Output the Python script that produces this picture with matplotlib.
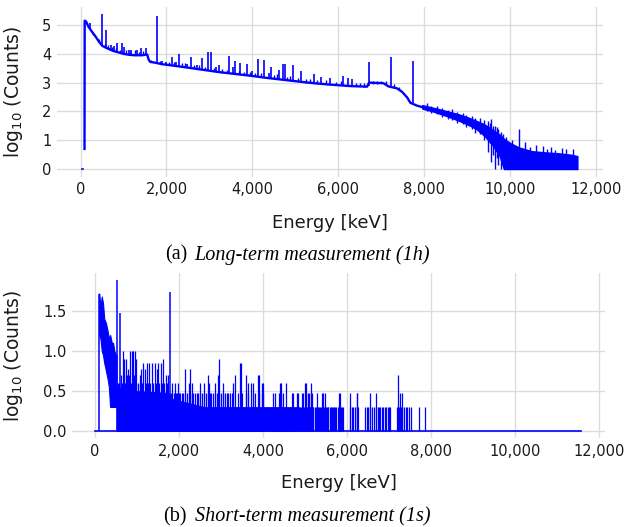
import numpy as np
import matplotlib
matplotlib.use("Agg")
import matplotlib.pyplot as plt
import matplotlib.ticker as mticker

BLUE = "#0000ff"
GRID = "#dcdcdc"

# ------------------------------------------------------------
# (a) long-term spectrum: continuum, photopeaks, high-energy noise band
# ------------------------------------------------------------
long_start_e = [30, 60]
long_start_y = [0.0, 0.0]

long_e = [93, 97, 130, 186, 260, 350, 430, 505, 580, 655, 760, 885, 1000, 1116,
          1250, 1434, 1550, 1585, 1620, 1744, 1900, 2209, 2500, 2829, 3200, 3600,
          3953, 4300, 4651, 5116, 5500, 5814, 6279, 6667, 6714, 7047, 7163, 7364,
          7481, 7597, 7674, 7829, 7950]
long_y = [0.7, 5.15, 5.12, 4.94, 4.78, 4.6, 4.42, 4.28, 4.22, 4.17, 4.1, 4.05, 4.0, 3.97,
          3.95, 3.95, 3.98, 3.8, 3.72, 3.69, 3.64, 3.58, 3.52, 3.45, 3.37, 3.3,
          3.24, 3.17, 3.11, 3.03, 2.97, 2.93, 2.88, 2.86, 3.0, 2.98, 2.87, 2.8,
          2.68, 2.49, 2.3, 2.2, 2.15]

band_e = [7950, 8200, 8500, 8800, 9000, 9200, 9400, 9600, 9750, 9850, 10000,
          10200, 10500, 10800, 11100, 11400, 11560]
band_lo = [2.1, 2.0, 1.85, 1.68, 1.55, 1.4, 1.15, 0.8, 0.45, 0.0, 0.0,
           0.0, 0.0, 0.0, 0.0, 0.0, 0.0]
band_hi = [2.22, 2.13, 2.02, 1.9, 1.8, 1.68, 1.55, 1.35, 1.2, 1.05, 0.9,
           0.75, 0.62, 0.58, 0.55, 0.5, 0.45]

# photopeaks sitting on the continuum
peak_e = [210, 511, 598, 698, 780, 853, 970, 1010, 1120, 1186, 1318, 1410, 1512,
          1779, 1900, 1980, 2132, 2223, 2287, 2480, 2581, 2700, 2829, 2960, 3039,
          3150, 3233, 3465, 3540, 3605, 3721, 3876, 4000, 4132, 4264, 4380, 4434,
          4612, 4713, 4752, 4946, 5140, 5426, 5605, 5814, 6109, 6217, 6318, 6714,
          7225, 7737]
peak_lo = [4.9, 4.28, 4.2, 4.15, 4.1, 4.07, 4.0, 4.0, 3.97, 3.96, 3.95, 3.95, 3.96,
           3.68, 3.64, 3.62, 3.59, 3.57, 3.56, 3.52, 3.5, 3.48, 3.45, 3.42, 3.4,
           3.38, 3.36, 3.32, 3.31, 3.3, 3.28, 3.25, 3.23, 3.2, 3.18, 3.16, 3.15,
           3.12, 3.1, 3.09, 3.06, 3.03, 2.98, 2.95, 2.93, 2.9, 2.89, 2.88, 2.9,
           2.86, 2.25]
peak_hi = [5.06, 5.37, 4.83, 4.3, 4.28, 4.36, 4.36, 4.25, 4.12, 4.15, 4.15, 4.19, 4.2,
           5.32, 3.75, 3.72, 3.88, 3.7, 3.98, 3.65, 3.88, 3.62, 3.84, 4.07, 4.05,
           3.55, 3.61, 3.92, 3.55, 3.76, 3.69, 3.63, 3.4, 3.81, 3.78, 3.35, 3.55,
           3.44, 3.63, 3.63, 3.61, 3.4, 3.29, 3.2, 3.15, 3.23, 3.15, 3.12, 3.73,
           3.9, 3.76]

# small fluctuations on the continuum
hair_e = [300, 420, 560, 640, 730, 820, 920, 1060, 1160, 1260, 1360, 1460, 1650,
          1840, 2050, 2170, 2350, 2420, 2640, 2760, 2900, 3100, 3300, 3400, 3680,
          3800, 3950, 4060, 4200, 4500, 4560, 4800, 4880, 5050, 5250, 5350, 5500,
          5700, 5950, 6050, 6400, 6500, 6600, 6800, 6900, 7000, 7100, 7300, 7420]
hair_lo = [4.66, 4.43, 4.24, 4.19, 4.12, 4.08, 4.02, 3.98, 3.96, 3.95, 3.95, 3.95, 3.7,
           3.64, 3.61, 3.6, 3.56, 3.55, 3.5, 3.47, 3.43, 3.39, 3.35, 3.33, 3.29,
           3.26, 3.24, 3.22, 3.19, 3.13, 3.12, 3.08, 3.07, 3.04, 3.0, 2.99, 2.97,
           2.95, 2.92, 2.91, 2.87, 2.87, 2.86, 2.96, 2.96, 2.97, 2.95, 2.84, 2.76]
hair_hi = [4.74, 4.52, 4.34, 4.3, 4.22, 4.2, 4.15, 4.12, 4.08, 4.12, 4.08, 4.1, 3.8,
           3.74, 3.72, 3.7, 3.68, 3.68, 3.6, 3.6, 3.55, 3.5, 3.48, 3.45, 3.42,
           3.38, 3.36, 3.32, 3.32, 3.25, 3.3, 3.2, 3.22, 3.15, 3.12, 3.12, 3.1,
           3.08, 3.02, 3.05, 2.98, 2.97, 2.98, 3.06, 3.05, 3.05, 3.04, 2.95, 2.85]

# noise spikes in the high-energy tail
tail_e = [8050, 8150, 8300, 8420, 8560, 8650, 8760, 8900, 8980, 9100, 9180, 9300,
          9380, 9480, 9520, 9560, 9600, 9640, 9680, 9720, 9780, 9820, 9900, 10050,
          10209, 10350, 10450, 10600, 10750, 10850, 10950, 11050, 11200, 11300, 11450]
tail_lo = [2.0, 1.95, 1.9, 1.8, 1.75, 1.7, 1.6, 1.55, 1.45, 1.4, 1.25, 1.2,
           1.0, 0.6, 0.9, 0.25, 0.5, 0.0, 0.4, 0.15, 0.0, 0.3, 0.0, 0.0,
           0.0, 0.0, 0.0, 0.0, 0.0, 0.0, 0.0, 0.0, 0.0, 0.0, 0.0]
tail_hi = [2.3, 2.2, 2.2, 2.12, 2.05, 2.08, 1.98, 1.95, 1.88, 1.85, 1.78, 1.78,
           1.7, 1.68, 1.6, 1.72, 1.5, 1.5, 1.45, 1.4, 1.3, 1.2, 1.1, 1.0,
           1.38, 0.95, 0.75, 0.82, 0.8, 0.7, 0.78, 0.65, 0.72, 0.68, 0.7]

# ------------------------------------------------------------
# (b) short-term spectrum: counts per channel (log10 shown)
# ------------------------------------------------------------
short_base_e = [0, 95, 11580]
short_base_y = [0.0, 0.0, 0.0]

short_env_e = [100, 130, 160, 190, 220, 260, 300, 330, 360, 400, 430, 460, 500, 515]
short_env_hi = [1.72, 1.55, 1.68, 1.6, 1.4, 1.35, 1.25, 1.15, 1.2, 1.1, 1.1, 1.0, 0.95, 0.95]
short_env_lo = [1.2, 1.15, 1.0, 0.95, 0.85, 0.75, 0.65, 0.55, 0.3, 0.3, 0.3, 0.3, 0.3, 0.3]

short_fill_e = [515, 1000, 1750, 1850, 2600, 4800]
short_fill_hi = [0.55, 0.5, 0.477, 0.4, 0.301, 0.301]

short_big_e = [97, 517, 595, 1786]
short_big_n = [52, 76, 30, 55]

short_n10_e = [660, 833, 873, 897, 952]
short_n8_e = [700, 740, 988, 1611, 2952]
short_n7_e = [1150, 1230, 1290, 1350, 1429, 1508, 1560, 3452, 3468]
short_n6_e = [780, 1100, 1190, 1470, 2143, 2262]
short_n5_e = [620, 690, 760, 810, 920, 1060, 1690, 1746, 2699, 2937, 3333, 3595,
              3881, 3913, 7206]
short_n4_e = [540, 560, 640, 675, 720, 790, 850, 910, 970, 1020, 1080, 1130, 1210,
              1260, 1320, 1380, 1450, 1530, 1590, 1650, 1720, 1826, 1900, 1984, 2230,
              2300, 2500, 2600, 2722, 2850, 3040, 3294, 3651, 3706, 3770, 3968, 4000,
              4397, 4428, 4550, 4999, 5016, 5135]
short_n3_e = [530, 548, 565, 580, 612, 628, 645, 672, 690, 705, 722, 748, 760, 778,
              795, 812, 840, 858, 870, 888, 915, 930, 948, 965, 985, 1002, 1020, 1045,
              1062, 1080, 1105, 1122, 1140, 1165, 1180, 1200, 1225, 1250, 1268, 1290,
              1310, 1335, 1360, 1378, 1400, 1425, 1448, 1470, 1495, 1520, 1540, 1565,
              1590, 1620, 1648, 1672, 1700, 1730, 1755, 1810, 1840, 1870, 1905, 1935,
              1960, 1990, 2030, 2070, 2100, 2150, 2190, 2230, 2260, 2300, 2345, 2380,
              2420, 2460, 2510, 2550, 2590, 2640, 2680, 2730, 2770, 2810, 2860, 2900,
              2950, 3000, 3040, 3090, 3135, 3174, 3214, 3254, 3293, 3413, 3492, 3595,
              3651, 3754, 3809, 3913, 3968, 4008, 4246, 4286, 4389, 4428, 4484, 4682,
              4722, 4802, 4841, 4921, 4944, 5016, 5079, 5095, 5135, 5159, 5294, 5397,
              5421, 5476, 5817, 5833, 6071, 6230, 6246, 6548, 6690, 7262, 7302]
short_n2_e = [4820, 4850, 4870, 4890, 4905, 4930, 4960, 4975, 4990, 5030, 5050, 5070,
              5110, 5125, 5150, 5180, 5200, 5230, 5260, 5280, 5320, 5340, 5360, 5380,
              5440, 5460, 5500, 5520, 5540, 5560, 5590, 5620, 5640, 5660, 5690, 5720,
              5750, 5780, 5800, 5860, 5890, 5910, 6080, 6110, 6150, 6200, 6230, 6260,
              6440, 6470, 6500, 6560, 6600, 6640, 6700, 6730, 6760, 6790, 6830, 6860,
              6900, 6930, 6970, 7000, 7020, 7190, 7230, 7280, 7320, 7360, 7400, 7440,
              7480, 7530, 7715, 7857]

x_ticks = [0, 2000, 4000, 6000, 8000, 10000, 12000]
long_yticks = [0, 1, 2, 3, 4, 5]
short_yticks = [0.0, 0.5, 1.0, 1.5]


def style_axis(ax, yticks, yfmt):
    ax.set_facecolor("white")
    for sp in ax.spines.values():
        sp.set_visible(False)
    ax.grid(True, color=GRID, linewidth=1.0)
    ax.set_axisbelow(True)
    ax.set_xticks(x_ticks)
    ax.set_yticks(yticks)
    ax.xaxis.set_major_formatter(mticker.FuncFormatter(lambda x, _: f"{x:,.0f}"))
    ax.yaxis.set_major_formatter(mticker.FormatStrFormatter(yfmt))
    ax.tick_params(length=0, pad=4, labelsize=10.5, labelcolor="#1a1a1a")
    ax.set_xlabel("Energy [keV]", fontsize=13, color="#1a1a1a")
    ax.set_ylabel("log$_{10}$ (Counts)", fontsize=13.5, color="#1a1a1a")


fig = plt.figure(figsize=(6.32, 5.27), dpi=100)

# ---------------- (a) ----------------
ax1 = fig.add_axes([0.0902, 0.6645, 0.864, 0.323])
ax1.plot(long_start_e, long_start_y, color=BLUE, lw=1.2)
ax1.plot(long_e, long_y, color=BLUE, lw=1.7)
ax1.fill_between(band_e, band_lo, band_hi, color=BLUE, lw=1.0)
ax1.vlines(hair_e, hair_lo, hair_hi, color=BLUE, lw=1.0)
ax1.vlines(peak_e, peak_lo, peak_hi, color=BLUE, lw=1.2)
ax1.vlines(tail_e, tail_lo, tail_hi, color=BLUE, lw=1.0)
ax1.set_xlim(-547, 12157)
ax1.set_ylim(-0.27, 5.64)
style_axis(ax1, long_yticks, "%d")
ax1.xaxis.set_label_coords(0.5, -0.219)
ax1.yaxis.set_label_coords(-0.0586, 0.5)

# ---------------- (b) ----------------
ax2 = fig.add_axes([0.114, 0.168, 0.844, 0.314])
ax2.plot(short_base_e, short_base_y, color=BLUE, lw=1.2)
ax2.fill_between(short_env_e, short_env_lo, short_env_hi, color=BLUE, lw=0.8)
ax2.fill_between(short_fill_e, 0, short_fill_hi, color=BLUE, lw=0.5)
levels = [(short_n2_e, 2), (short_n3_e, 3), (short_n4_e, 4), (short_n5_e, 5),
          (short_n6_e, 6), (short_n7_e, 7), (short_n8_e, 8), (short_n10_e, 10)]
for energies, n in levels:
    ax2.vlines(energies, 0, np.log10(n), color=BLUE, lw=0.9)
ax2.vlines(short_big_e, 0, np.log10(short_big_n), color=BLUE, lw=1.1)
ax2.set_xlim(-547, 12157)
ax2.set_ylim(-0.094, 1.974)
style_axis(ax2, short_yticks, "%.1f")
ax2.xaxis.set_label_coords(0.5, -0.214)
ax2.yaxis.set_label_coords(-0.089, 0.5)

# ---------------- captions ----------------
cap_font = "Liberation Serif"
fig.text(187 / 632, 1 - 255 / 527, "(a)", ha="right", va="center",
         family=cap_font, fontsize=14.5)
fig.text(194 / 632, 1 - 255 / 527, "Long-term measurement (1h)", ha="left",
         va="center", family=cap_font, style="italic", fontsize=14.5)
fig.text(187 / 632, 1 - 517 / 527, "(b)", ha="right", va="center",
         family=cap_font, fontsize=14.5)
fig.text(195 / 632, 1 - 517 / 527, "Short-term measurement (1s)", ha="left",
         va="center", family=cap_font, style="italic", fontsize=14.5)

fig.savefig("out.png", dpi=100)
